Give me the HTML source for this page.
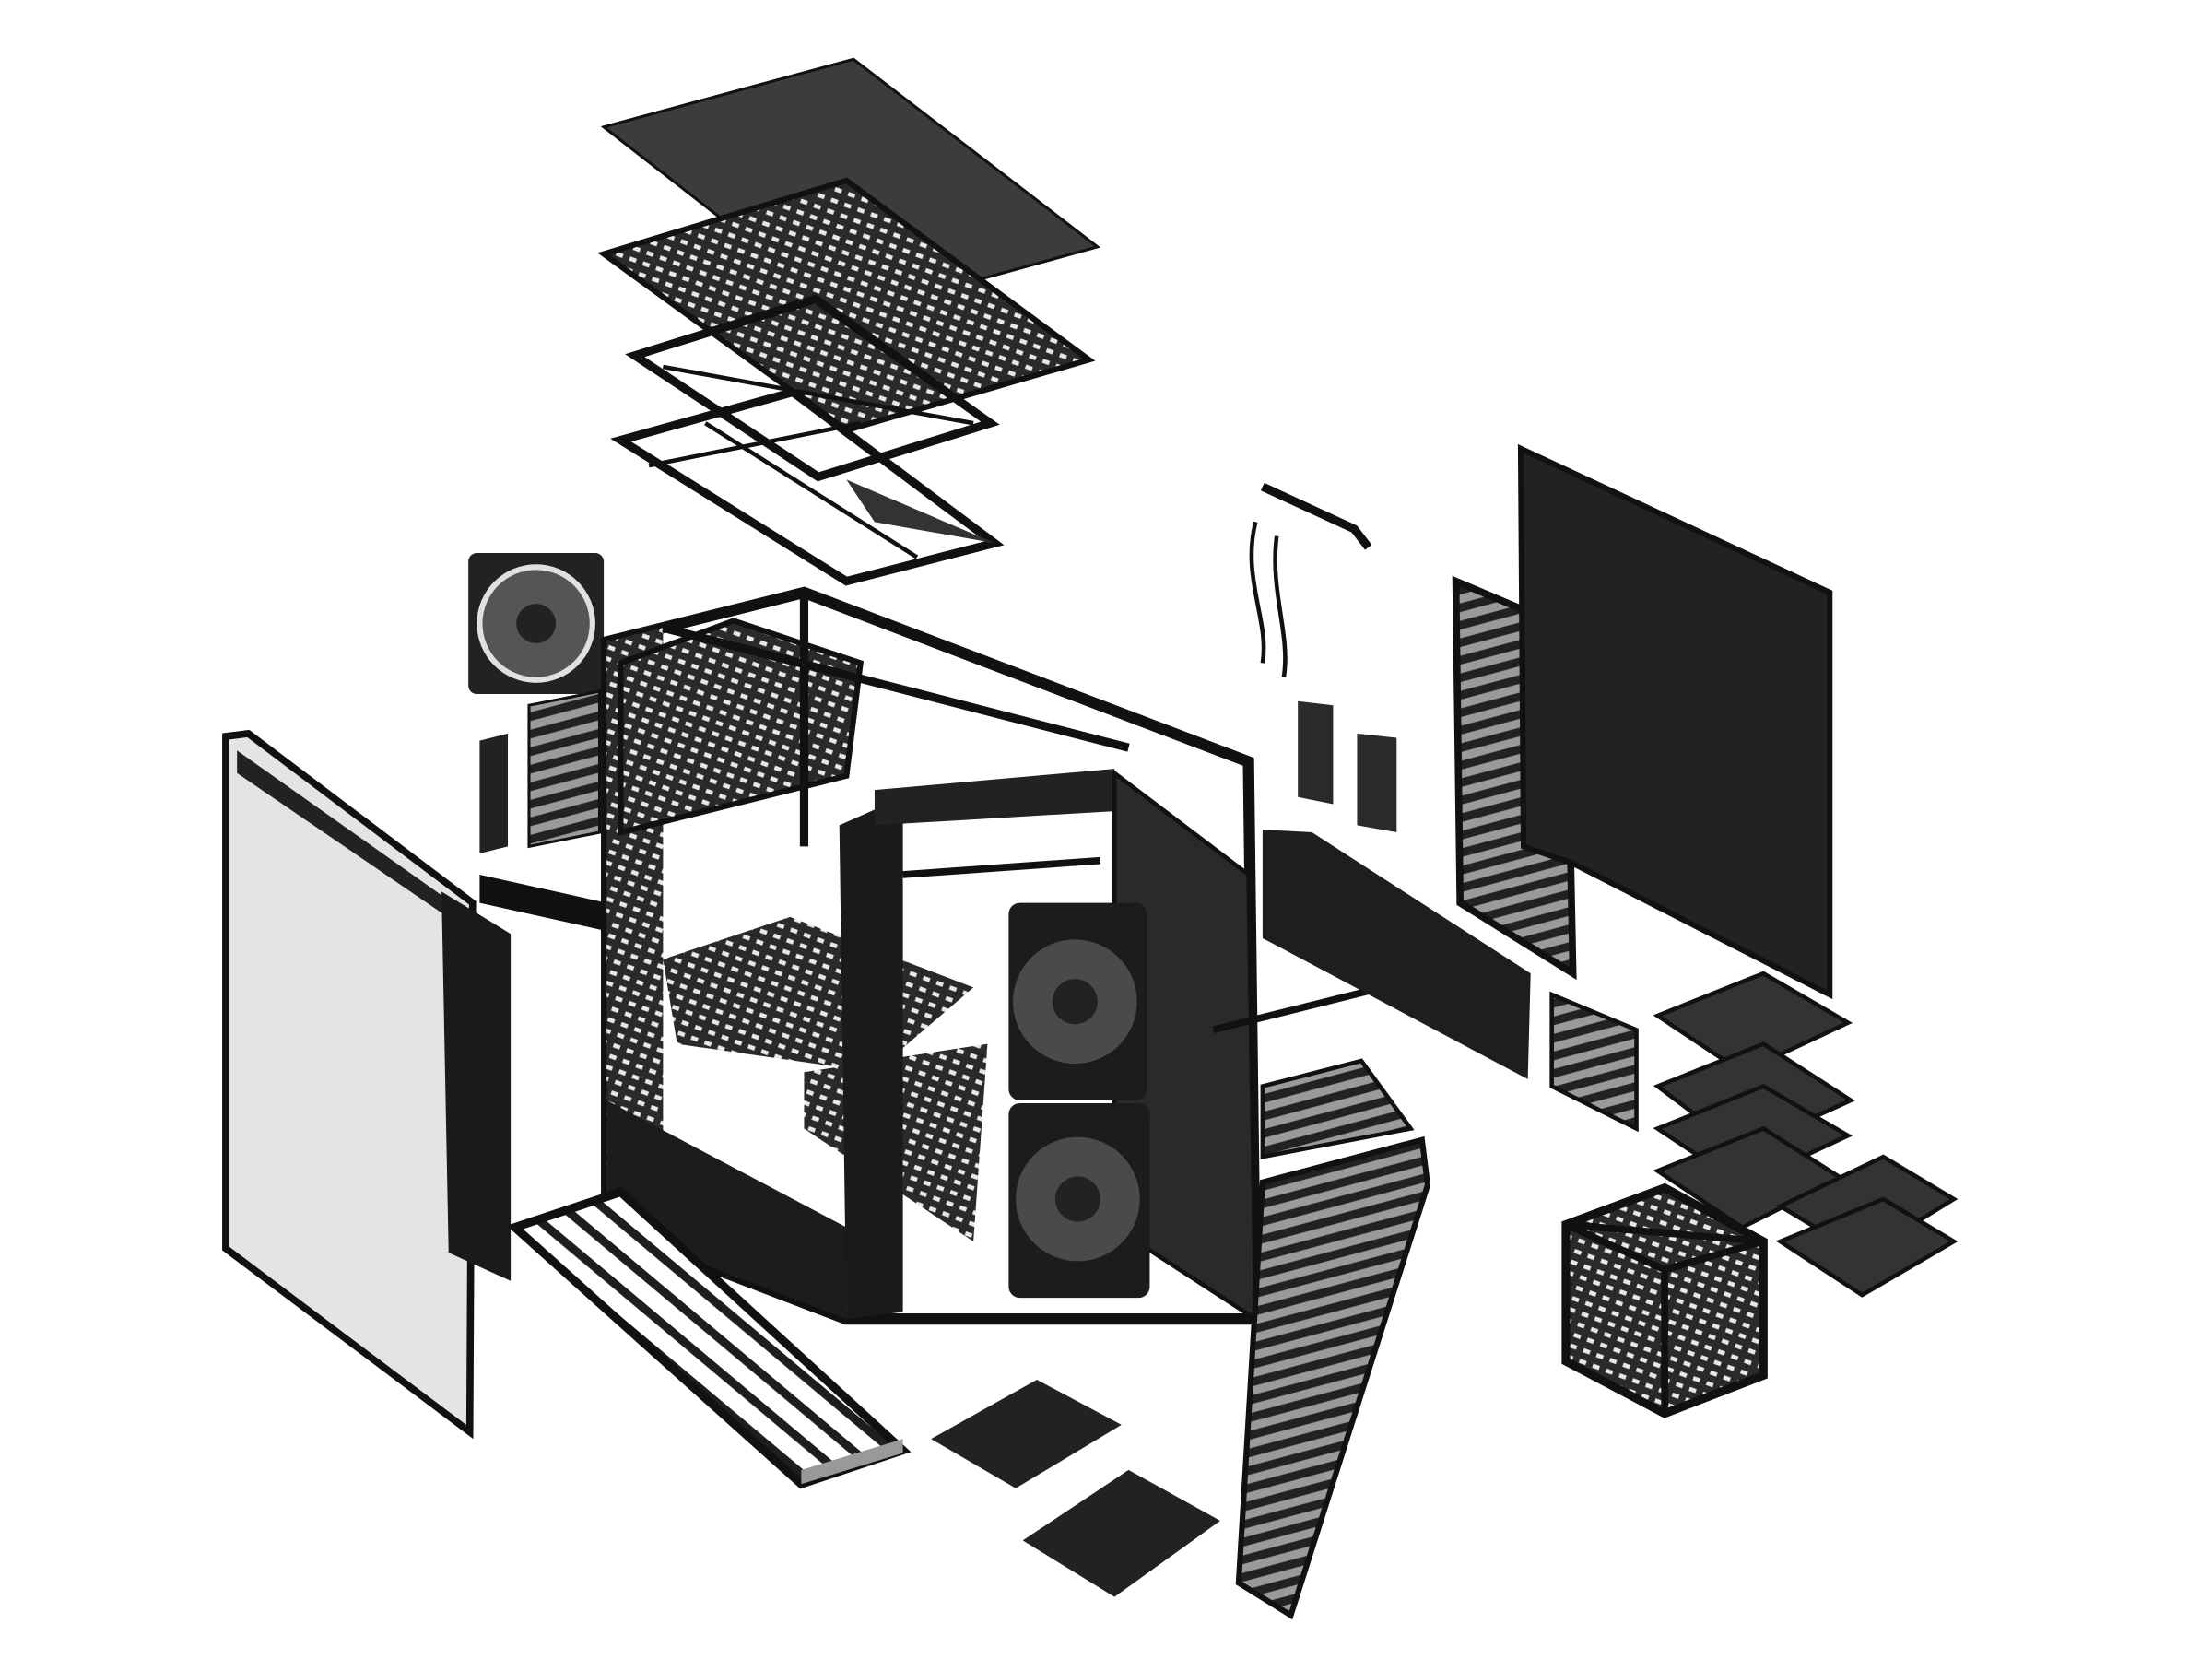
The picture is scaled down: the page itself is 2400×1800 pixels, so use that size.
<!DOCTYPE html>
<html><head><meta charset="utf-8"><style>
html,body{margin:0;padding:0;background:#fff;}
svg{display:block;}
</style></head><body>
<svg width="2400" height="1800" viewBox="0 0 1568 1176" preserveAspectRatio="none" xmlns="http://www.w3.org/2000/svg">
<defs>
<pattern id="mesh" width="10" height="8" patternUnits="userSpaceOnUse" patternTransform="rotate(20)">
<rect width="10" height="8" fill="#2a2a2a"/><rect x="2" y="2" width="5" height="3" fill="#e8e8e8"/>
</pattern>
<pattern id="grille" width="40" height="12" patternUnits="userSpaceOnUse" patternTransform="rotate(-15)">
<rect width="40" height="12" fill="#222"/><rect y="3" width="40" height="6" fill="#9a9a9a"/>
</pattern>
<pattern id="stripes" width="18" height="18" patternUnits="userSpaceOnUse" patternTransform="rotate(40)">
<rect width="18" height="18" fill="#fff"/><rect width="18" height="6" fill="#1e1e1e"/>
</pattern>
</defs>

<!-- top panel -->
<polygon points="428,90 605,42 778,175 600,224" fill="#3c3c3c" stroke="#111" stroke-width="2"/>
<!-- mesh panel -->
<polygon points="428,180 600,128 772,255 600,305" fill="url(#mesh)" stroke="#111" stroke-width="4"/>
<!-- frame 3 -->
<polygon points="450,252 578,212 702,300 580,338" fill="none" stroke="#111" stroke-width="6"/>
<line x1="470" y1="260" x2="690" y2="300" stroke="#111" stroke-width="3"/>
<!-- frame 4 -->
<polygon points="440,312 562,278 705,385 600,412" fill="none" stroke="#111" stroke-width="6"/>
<polygon points="600,340 705,385 620,370" fill="#333"/>
<line x1="500" y1="300" x2="650" y2="395" stroke="#111" stroke-width="3"/>
<line x1="460" y1="330" x2="610" y2="300" stroke="#111" stroke-width="3"/>

<!-- fan top-left -->
<rect x="332" y="392" width="96" height="100" fill="#222" rx="6"/>
<circle cx="380" cy="442" r="42" fill="#e0e0e0"/>
<circle cx="380" cy="442" r="38" fill="#555"/>
<circle cx="380" cy="442" r="14" fill="#222"/>

<!-- pcie brackets -->
<polygon points="340,525 360,520 360,600 340,605" fill="#222"/>
<polygon points="375,500 425,490 425,590 375,600" fill="url(#grille)" stroke="#111" stroke-width="2"/>
<polygon points="340,620 430,640 430,660 340,640" fill="#111"/>

<!-- side glass -->
<polygon points="160,522 176,520 335,640 333,1015 160,885" fill="#e4e4e4" stroke="#111" stroke-width="5"/>
<polygon points="168,532 332,648 332,660 168,548" fill="#222"/>
<!-- dark side panel -->
<polygon points="313,632 362,662 362,908 318,888" fill="#1a1a1a"/>

<!-- main chassis -->
<polygon points="430,455 570,420 885,540 890,935 600,935 430,870" fill="#fff" stroke="#111" stroke-width="8"/>
<polygon points="430,455 470,445 470,840 430,860" fill="url(#mesh)"/>
<polygon points="440,470 520,440 610,470 600,550 440,590" fill="url(#mesh)" stroke="#111" stroke-width="4"/>
<polygon points="470,680 560,650 690,700 620,760 480,740" fill="url(#mesh)"/>
<polygon points="570,760 700,740 690,880 570,800" fill="url(#mesh)"/>
<polygon points="430,780 600,870 600,935 430,870" fill="#1c1c1c"/>
<polygon points="595,585 640,565 640,930 600,935" fill="#1a1a1a"/>
<polygon points="620,560 790,545 790,575 620,585" fill="#222"/>
<line x1="570" y1="420" x2="570" y2="600" stroke="#111" stroke-width="6"/>
<line x1="470" y1="445" x2="800" y2="530" stroke="#111" stroke-width="6"/>
<line x1="640" y1="620" x2="780" y2="610" stroke="#111" stroke-width="5"/>

<!-- front door panel -->
<polygon points="790,548 885,620 890,935 790,870" fill="#2a2a2a" stroke="#111" stroke-width="3"/>
<!-- fans -->
<rect x="715" y="640" width="98" height="140" fill="#1c1c1c" rx="8"/>
<circle cx="762" cy="710" r="44" fill="#4a4a4a"/><circle cx="762" cy="710" r="16" fill="#222"/>
<rect x="715" y="782" width="100" height="138" fill="#1c1c1c" rx="8"/>
<circle cx="764" cy="850" r="44" fill="#4a4a4a"/><circle cx="764" cy="850" r="16" fill="#222"/>

<!-- bottom filter -->
<polygon points="365,870 440,845 640,1028 568,1052" fill="url(#stripes)" stroke="#111" stroke-width="6"/>
<polygon points="568,1042 640,1020 640,1030 568,1052" fill="#999"/>

<!-- small plates -->
<polygon points="660,1020 735,978 795,1010 720,1055" fill="#222"/>
<polygon points="725,1092 800,1042 865,1078 790,1132" fill="#222"/>

<!-- front grille -->
<polygon points="895,838 1008,808 1012,840 915,1145 878,1122" fill="url(#grille)" stroke="#111" stroke-width="4"/>
<polygon points="895,770 965,752 1000,800 895,820" fill="url(#grille)" stroke="#111" stroke-width="3"/>
<line x1="860" y1="730" x2="980" y2="700" stroke="#111" stroke-width="5"/>

<!-- long bar -->
<polygon points="895,588 930,590 1085,690 1083,765 895,665" fill="#1e1e1e"/>

<!-- cable / IO -->
<polyline points="895,345 960,375 970,388" fill="none" stroke="#111" stroke-width="6"/>
<path d="M890,370 C880,410 900,440 895,470 M905,380 C900,420 915,450 910,480" fill="none" stroke="#111" stroke-width="3"/>
<!-- small brackets -->
<polygon points="920,497 945,500 945,570 920,565" fill="#2a2a2a"/>
<polygon points="962,520 990,523 990,590 962,585" fill="#2a2a2a"/>

<!-- rack frame -->
<polygon points="1032,412 1110,445 1115,690 1035,640" fill="url(#grille)" stroke="#111" stroke-width="5"/>
<!-- right panel -->
<polygon points="1078,318 1297,420 1297,705 1115,612 1080,600" fill="#222" stroke="#111" stroke-width="4"/>

<!-- bracket small -->
<polygon points="1100,705 1160,730 1160,800 1100,770" fill="url(#grille)" stroke="#111" stroke-width="3"/>

<!-- HDD trays -->
<polygon points="1175,720 1250,690 1310,725 1235,760" fill="#333" stroke="#111" stroke-width="3"/>
<polygon points="1175,770 1250,740 1312,780 1235,815" fill="#333" stroke="#111" stroke-width="3"/>
<polygon points="1175,800 1250,770 1310,805 1235,840" fill="#333" stroke="#111" stroke-width="3"/>
<polygon points="1175,830 1250,800 1305,835 1235,870" fill="#333" stroke="#111" stroke-width="3"/>
<polygon points="1262,855 1335,820 1385,850 1320,890" fill="#333" stroke="#111" stroke-width="3"/>
<polygon points="1262,880 1335,850 1385,880 1320,918" fill="#333" stroke="#111" stroke-width="3"/>

<!-- HDD cage -->
<polygon points="1110,868 1180,842 1250,880 1250,975 1180,1002 1110,965" fill="url(#mesh)" stroke="#111" stroke-width="6"/>
<polygon points="1110,868 1180,900 1250,880" fill="none" stroke="#111" stroke-width="5"/>
<line x1="1180" y1="900" x2="1180" y2="1002" stroke="#111" stroke-width="5"/>
</svg>
</body></html>
